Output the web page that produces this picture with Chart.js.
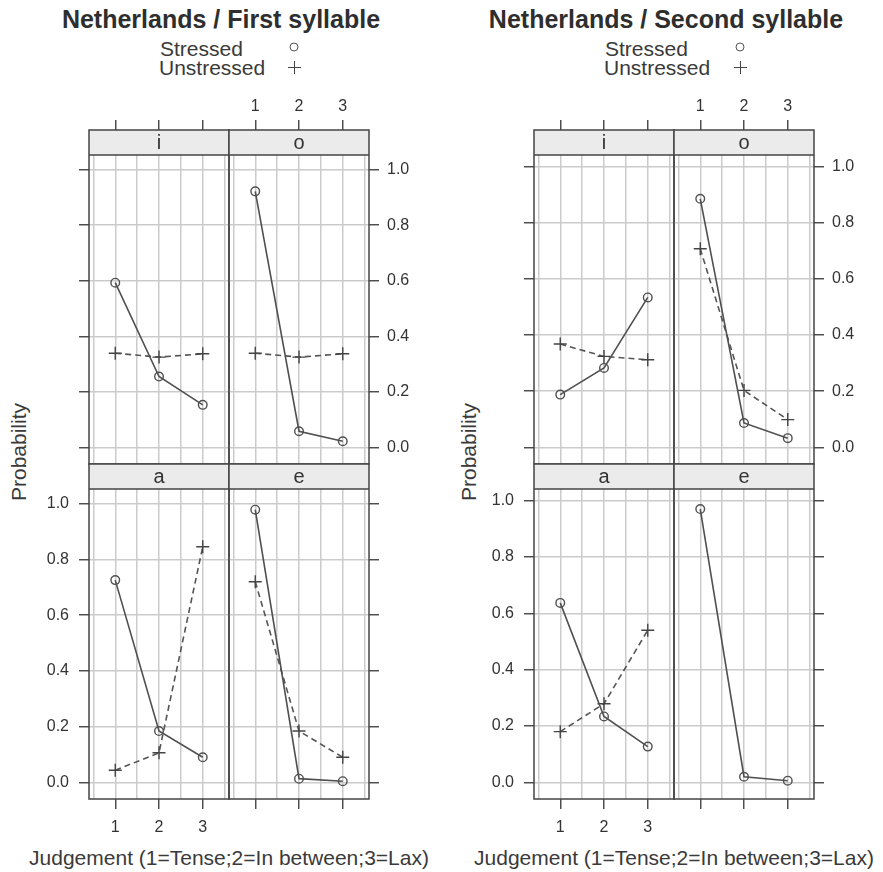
<!DOCTYPE html>
<html>
<head>
<meta charset="utf-8">
<script src="https://cdn.jsdelivr.net/npm/chart.js@4.4.0/dist/chart.umd.min.js"></script>
<style>
body { margin: 0; background: #fff; width: 883px; height: 872px; position: relative; overflow: hidden;
  font-family: "Liberation Sans", Arial, sans-serif; color: #333; }
.t { position: absolute; white-space: nowrap; transform: translate(-50%, -50%); line-height: 1; }
.l { position: absolute; white-space: nowrap; transform: translateY(-50%); line-height: 1; font-size: 21px; color: #3a3a3a; }
.title { font-weight: bold; font-size: 25px; color: #2e2e2e; }
.axt { font-size: 21px; color: #3a3a3a; }
.circ { position: absolute; width: 7px; height: 7px; border: 1.4px solid #555; border-radius: 50%; transform: translate(-50%, -50%); }
.plus { position: absolute; background: #444; }
canvas { position: absolute; }
</style>
</head>
<body>
<div class="t title" style="left:221px;top:19px">Netherlands / First syllable</div>
<div class="t title" style="left:666px;top:19px">Netherlands / Second syllable</div>

<div class="l" style="left:160px;top:48px">Stressed</div>
<div class="l" style="left:159px;top:67px">Unstressed</div>
<div class="circ" style="left:294px;top:47px"></div>
<div class="plus" style="left:288px;top:67px;width:13px;height:1.4px"></div>
<div class="plus" style="left:294px;top:61px;width:1.4px;height:13px"></div>

<div class="l" style="left:605px;top:48px">Stressed</div>
<div class="l" style="left:604px;top:67px">Unstressed</div>
<div class="circ" style="left:740px;top:47px"></div>
<div class="plus" style="left:734px;top:67px;width:13px;height:1.4px"></div>
<div class="plus" style="left:740px;top:61px;width:1.4px;height:13px"></div>

<div class="t axt" style="left:18px;top:452px;transform:translate(-50%,-50%) rotate(-90deg)">Probability</div>
<div class="t axt" style="left:468px;top:452px;transform:translate(-50%,-50%) rotate(-90deg)">Probability</div>
<div class="t axt" style="left:229px;top:857px">Judgement (1=Tense;2=In between;3=Lax)</div>
<div class="t axt" style="left:674px;top:857px">Judgement (1=Tense;2=In between;3=Lax)</div>

<script>
// judgement levels and tick values
const judgement = [1, 2, 3];
const xTickValues = [0.5, 1, 1.5, 2, 2.5, 3, 3.5];
const xLabelValues = [1, 2, 3];
const yTickValues = [0, 0.2, 0.4, 0.6, 0.8, 1.0];

// first syllable
const first_i_stressed = [0.593, 0.255, 0.153];
const first_i_unstressed = [0.339, 0.325, 0.337];
const first_o_stressed = [0.922, 0.058, 0.022];
const first_o_unstressed = [0.339, 0.325, 0.337];
const first_a_stressed = [0.726, 0.184, 0.090];
const first_a_unstressed = [0.043, 0.106, 0.846];
const first_e_stressed = [0.979, 0.013, 0.004];
const first_e_unstressed = [0.720, 0.184, 0.090];

// second syllable
const second_i_stressed = [0.188, 0.283, 0.534];
const second_i_unstressed = [0.368, 0.324, 0.312];
const second_o_stressed = [0.885, 0.087, 0.033];
const second_o_unstressed = [0.707, 0.203, 0.099];
const second_a_stressed = [0.637, 0.234, 0.127];
const second_a_unstressed = [0.180, 0.279, 0.540];
const second_e_stressed = [0.970, 0.020, 0.006];
const second_e_unstressed = [];

const FONT = '"Liberation Sans", Arial, sans-serif';
const M = 50, AXW = 42, STRIP = 25;

const stripPlugin = {
  id: "strip",
  afterDraw(chart, args, opts) {
    const ctx = chart.ctx, a = chart.chartArea;
    ctx.save();
    ctx.fillStyle = "#ebebeb";
    ctx.fillRect(a.left, a.top, a.right - a.left, STRIP);
    ctx.strokeStyle = "#444";
    ctx.lineWidth = 1.5;
    ctx.beginPath();
    ctx.moveTo(a.left, a.top + STRIP);
    ctx.lineTo(a.right, a.top + STRIP);
    ctx.stroke();
    ctx.strokeRect(a.left, a.top, a.right - a.left, a.bottom - a.top);
    ctx.fillStyle = "#333";
    ctx.font = "20px " + FONT;
    ctx.textAlign = "center";
    ctx.textBaseline = "middle";
    ctx.fillText(opts.label, (a.left + a.right) / 2, a.top + STRIP / 2 + 1);
    ctx.restore();
  }
};

function pts(vals) {
  return vals.map((v, i) => ({ x: judgement[i], y: v }));
}

function zeroPad(s) {
  s.paddingLeft = s.paddingRight = s.paddingTop = s.paddingBottom = 0;
}

function makePanel(p) {
  const w = p.x1 - p.x0, h = p.y1 - p.y0;
  const cv = document.createElement("canvas");
  cv.width = w + 2 * M;
  cv.height = h + 2 * M;
  cv.style.left = (p.x0 - M) + "px";
  cv.style.top = (p.y0 - M) + "px";
  document.body.appendChild(cv);

  const pad = { left: M, right: M, top: M, bottom: M };
  pad[p.yPos] -= AXW;
  pad[p.xPos] -= AXW;

  const datasets = [{
    label: "Stressed",
    data: pts(p.stressed),
    borderColor: "#505050",
    borderWidth: 1.6,
    pointStyle: "circle",
    pointRadius: 4.3,
    pointBorderWidth: 1.4,
    pointBorderColor: "#505050",
    pointBackgroundColor: "rgba(0,0,0,0)"
  }];
  if (p.unstressed.length) {
    datasets.push({
      label: "Unstressed",
      data: pts(p.unstressed),
      borderColor: "#555",
      borderWidth: 1.6,
      borderDash: [6, 4],
      pointStyle: "cross",
      pointRadius: 6.5,
      pointBorderWidth: 1.4,
      pointBorderColor: "#444"
    });
  }

  new Chart(cv, {
    type: "line",
    data: { datasets: datasets },
    plugins: [stripPlugin],
    options: {
      responsive: false,
      animation: false,
      devicePixelRatio: 1,
      layout: { padding: pad, autoPadding: false },
      plugins: { legend: { display: false }, tooltip: { enabled: false }, strip: { label: p.vowel } },
      scales: {
        x: {
          type: "linear",
          position: p.xPos,
          min: 0.4,
          max: 3.6,
          afterBuildTicks: s => { s.ticks = xTickValues.map(v => ({ value: v })); },
          afterFit: s => { s.height = AXW; zeroPad(s); },
          border: { display: false },
          grid: {
            color: "#cbcbcb",
            lineWidth: 1.5,
            tickLength: 10,
            tickWidth: 1.4,
            tickColor: c => (c.tick && xLabelValues.includes(c.tick.value)) ? "#444" : "rgba(0,0,0,0)"
          },
          ticks: {
            autoSkip: false,
            maxRotation: 0,
            padding: p.xPos === "top" ? 4 : 9,
            color: "#333",
            font: { family: FONT, size: 16 },
            callback: v => (p.xLabels && xLabelValues.includes(v)) ? String(v) : ""
          }
        },
        y: {
          type: "linear",
          position: p.yPos,
          min: p.yRange[0],
          max: p.yRange[1],
          afterBuildTicks: s => { s.ticks = yTickValues.map(v => ({ value: v })); },
          afterFit: s => { s.width = AXW; zeroPad(s); },
          border: { display: false },
          grid: {
            color: "#cbcbcb",
            lineWidth: 1.5,
            tickLength: 10,
            tickWidth: 1.4,
            tickColor: "#444"
          },
          ticks: {
            autoSkip: false,
            padding: p.yPos === "left" ? 10 : 8,
            color: "#333",
            font: { family: FONT, size: 16 },
            callback: v => p.yLabels ? v.toFixed(1) : ""
          }
        }
      }
    }
  });
}

const firstY = [-0.06, 1.143];
const secondY = [-0.059, 1.13];

const panels = [
  { vowel: "i", stressed: first_i_stressed, unstressed: first_i_unstressed, x0: 89, x1: 229, y0: 130, y1: 464, xPos: "top", yPos: "left", xLabels: false, yLabels: false, yRange: firstY },
  { vowel: "o", stressed: first_o_stressed, unstressed: first_o_unstressed, x0: 229, x1: 369, y0: 130, y1: 464, xPos: "top", yPos: "right", xLabels: true, yLabels: true, yRange: firstY },
  { vowel: "a", stressed: first_a_stressed, unstressed: first_a_unstressed, x0: 89, x1: 229, y0: 464, y1: 799, xPos: "bottom", yPos: "left", xLabels: true, yLabels: true, yRange: firstY },
  { vowel: "e", stressed: first_e_stressed, unstressed: first_e_unstressed, x0: 229, x1: 369, y0: 464, y1: 799, xPos: "bottom", yPos: "right", xLabels: false, yLabels: false, yRange: firstY },
  { vowel: "i", stressed: second_i_stressed, unstressed: second_i_unstressed, x0: 534, x1: 674, y0: 130, y1: 464, xPos: "top", yPos: "left", xLabels: false, yLabels: false, yRange: secondY },
  { vowel: "o", stressed: second_o_stressed, unstressed: second_o_unstressed, x0: 674, x1: 814, y0: 130, y1: 464, xPos: "top", yPos: "right", xLabels: true, yLabels: true, yRange: secondY },
  { vowel: "a", stressed: second_a_stressed, unstressed: second_a_unstressed, x0: 534, x1: 674, y0: 464, y1: 799, xPos: "bottom", yPos: "left", xLabels: true, yLabels: true, yRange: secondY },
  { vowel: "e", stressed: second_e_stressed, unstressed: second_e_unstressed, x0: 674, x1: 814, y0: 464, y1: 799, xPos: "bottom", yPos: "right", xLabels: false, yLabels: false, yRange: secondY }
];

panels.forEach(makePanel);
</script>
</body>
</html>
